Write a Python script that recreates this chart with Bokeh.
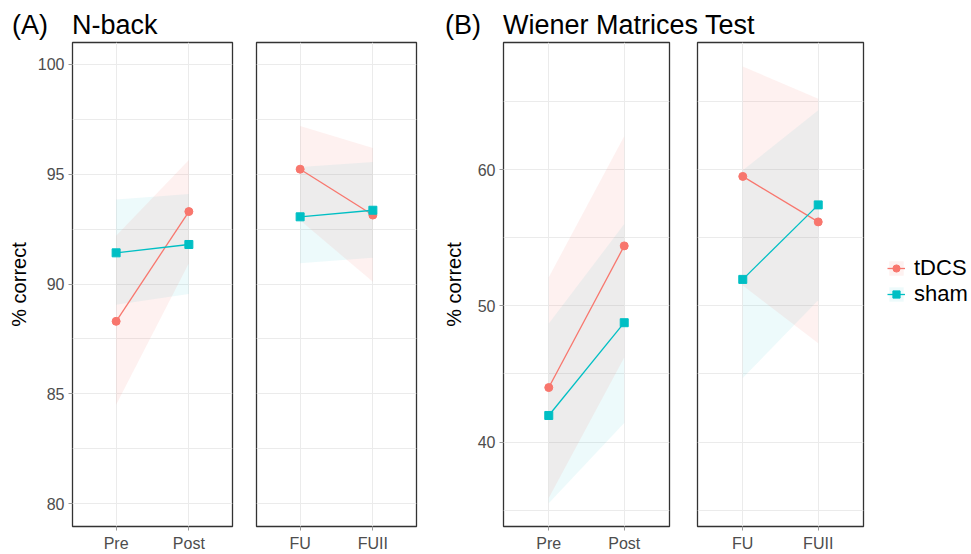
from bokeh.plotting import figure
from bokeh.layouts import row, column
from bokeh.models import FactorRange, Range1d, FixedTicker, Legend, LegendItem, Div
from bokeh.embed import file_html
from bokeh.resources import INLINE

FONT = "Liberation Sans"
C_TDCS = "#F8766D"
C_SHAM = "#00BFC4"

# ---------------- data ----------------
periods_pre = ["Pre", "Post"]
periods_fu = ["FU", "FUII"]

nback_yticks = [80, 85, 90, 95, 100]
nback_yminor = [82.5, 87.5, 92.5, 97.5]
wmt_yticks = [40, 50, 60]
wmt_yminor = [35, 45, 55, 65]

# N-back, Pre/Post
nb_pre_tdcs_mean = [88.3, 93.3]
nb_pre_tdcs_lo = [84.5, 90.95]
nb_pre_tdcs_hi = [92.2, 95.65]
nb_pre_sham_mean = [91.42, 91.8]
nb_pre_sham_lo = [89.05, 89.55]
nb_pre_sham_hi = [93.85, 94.1]
# N-back, FU/FUII
nb_fu_tdcs_mean = [95.23, 93.14]
nb_fu_tdcs_lo = [92.9, 90.1]
nb_fu_tdcs_hi = [97.2, 96.2]
nb_fu_sham_mean = [93.06, 93.36]
nb_fu_sham_lo = [90.94, 91.2]
nb_fu_sham_hi = [95.33, 95.56]
# Wiener Matrices Test, Pre/Post
wm_pre_tdcs_mean = [44.0, 54.4]
wm_pre_tdcs_lo = [35.9, 46.2]
wm_pre_tdcs_hi = [52.1, 62.44]
wm_pre_sham_mean = [41.95, 48.76]
wm_pre_sham_lo = [35.5, 41.4]
wm_pre_sham_hi = [48.7, 56.0]
# Wiener Matrices Test, FU/FUII
wm_fu_tdcs_mean = [59.5, 56.16]
wm_fu_tdcs_lo = [51.5, 47.25]
wm_fu_tdcs_hi = [67.57, 65.2]
wm_fu_sham_mean = [51.94, 57.41]
wm_fu_sham_lo = [44.7, 50.4]
wm_fu_sham_hi = [59.95, 64.35]

groups = ["tDCS", "sham"]
group_colors = [C_TDCS, C_SHAM]
group_markers = ["circle", "square"]
group_alpha = [0.1, 0.07]

panel_tags = ["(A)", "(B)"]
panel_titles = ["N-back", "Wiener Matrices Test"]

FIG_H = 514
TOP = 40


def make_panel(factors, yr, yticks, yminor, tdcs, sham, width, mbl, mbr,
               show_y, label_standoff=6):
    p = figure(
        x_range=FactorRange(factors=factors, range_padding=0.1,
                            range_padding_units="absolute"),
        y_range=Range1d(*yr),
        width=width, height=FIG_H,
        min_border_left=mbl, min_border_right=mbr,
        min_border_top=2, min_border_bottom=27,
        output_backend="svg", toolbar_location=None,
        background_fill_color="white", border_fill_color="white",
        outline_line_color="#333333", outline_line_width=1.3,
    )
    yt = FixedTicker(ticks=yticks, minor_ticks=yminor)
    p.yaxis.ticker = yt
    p.ygrid.ticker = yt
    p.ygrid.grid_line_color = "#EBEBEB"
    p.ygrid.grid_line_width = 1
    p.ygrid.minor_grid_line_color = "#EBEBEB"
    p.ygrid.minor_grid_line_width = 1
    p.xgrid.grid_line_color = "#EBEBEB"
    p.xgrid.grid_line_width = 1

    for ax in (p.xaxis, p.yaxis):
        ax.axis_line_color = None
        ax.major_tick_line_color = "#999999"
        ax.major_tick_out = 4
        ax.major_tick_in = 0
        ax.minor_tick_line_color = None
        ax.major_label_text_font = FONT
        ax.major_label_text_font_size = "16px"
        ax.major_label_text_color = "#4D4D4D"
    p.xaxis.major_label_standoff = 4
    p.yaxis.major_label_standoff = 4

    if show_y:
        p.yaxis.axis_label = "% correct"
        p.yaxis.axis_label_text_font = FONT
        p.yaxis.axis_label_text_font_size = "20px"
        p.yaxis.axis_label_text_font_style = "normal"
        p.yaxis.axis_label_text_color = "#000000"
        p.yaxis.axis_label_standoff = label_standoff
    else:
        p.yaxis.visible = False

    p.varea(x=factors, y1=sham[1], y2=sham[2], fill_color=C_SHAM, fill_alpha=group_alpha[1])
    p.varea(x=factors, y1=tdcs[1], y2=tdcs[2], fill_color=C_TDCS, fill_alpha=group_alpha[0])
    p.line(x=factors, y=tdcs[0], line_color=C_TDCS, line_width=1.3)
    p.line(x=factors, y=sham[0], line_color=C_SHAM, line_width=1.3)
    p.scatter(x=factors, y=tdcs[0], marker="circle", size=8,
              fill_color=C_TDCS, line_color=C_TDCS)
    p.scatter(x=factors, y=sham[0], marker="square", size=8,
              fill_color=C_SHAM, line_color=C_SHAM)
    return p


nb_range = (78.955, 101.0)
wm_range = (33.8, 69.33)

pA1 = make_panel(periods_pre, nb_range, nback_yticks, nback_yminor,
                 (nb_pre_tdcs_mean, nb_pre_tdcs_lo, nb_pre_tdcs_hi),
                 (nb_pre_sham_mean, nb_pre_sham_lo, nb_pre_sham_hi),
                 244, 72, 12, True, label_standoff=5)
pA2 = make_panel(periods_fu, nb_range, nback_yticks, nback_yminor,
                 (nb_fu_tdcs_mean, nb_fu_tdcs_lo, nb_fu_tdcs_hi),
                 (nb_fu_sham_mean, nb_fu_sham_lo, nb_fu_sham_hi),
                 182, 12, 10, False)
pB1 = make_panel(periods_pre, wm_range, wmt_yticks, wmt_yminor,
                 (wm_pre_tdcs_mean, wm_pre_tdcs_lo, wm_pre_tdcs_hi),
                 (wm_pre_sham_mean, wm_pre_sham_lo, wm_pre_sham_hi),
                 257, 77, 14, True, label_standoff=10)
pB2 = make_panel(periods_fu, wm_range, wmt_yticks, wmt_yminor,
                 (wm_fu_tdcs_mean, wm_fu_tdcs_lo, wm_fu_tdcs_hi),
                 (wm_fu_sham_mean, wm_fu_sham_lo, wm_fu_sham_hi),
                 182, 14, 2, False)

# legend-only figure: its renderers hold the FU series but the y range excludes
# them, so only Bokeh's legend keys are visible.
pL = figure(width=106, height=FIG_H, min_border=0,
            x_range=FactorRange(factors=periods_fu), y_range=Range1d(-2, -1),
            x_axis_location=None, y_axis_location=None,
            output_backend="svg", toolbar_location=None,
            outline_line_color=None, background_fill_color="white",
            border_fill_color="white")
pL.grid.visible = False
leg_series = [(wm_fu_tdcs_mean, wm_fu_tdcs_lo, wm_fu_tdcs_hi),
              (wm_fu_sham_mean, wm_fu_sham_lo, wm_fu_sham_hi)]
items = []
for g, c, m, a, s in zip(groups, group_colors, group_markers, group_alpha, leg_series):
    r1 = pL.varea(x=periods_fu, y1=s[1], y2=s[2], fill_color=c, fill_alpha=a)
    r2 = pL.line(x=periods_fu, y=s[0], line_color=c, line_width=1.3)
    r3 = pL.scatter(x=periods_fu, y=s[0], marker=m, size=8, fill_color=c, line_color=c)
    items.append(LegendItem(label=g, renderers=[r1, r2, r3]))
legend = Legend(
    items=items, location=(22, 219),
    label_text_font=FONT, label_text_font_size="22px", label_text_color="#000000",
    glyph_width=18, glyph_height=18, label_standoff=9, spacing=0,
    padding=0, margin=0, border_line_color=None, background_fill_alpha=0,
)
pL.add_layout(legend)

# panel titles
title_style = ("position:absolute;top:12px;white-space:nowrap;"
               "font-family:'Liberation Sans';font-size:27px;line-height:27px;color:#000;")
title_left = [(12, 72), (445, 503)]
spans = ""
for (xl_tag, xl_title), tag, ttl in zip(title_left, panel_tags, panel_titles):
    spans += f'<span style="{title_style}left:{xl_tag}px;">{tag}</span>'
    spans += f'<span style="{title_style}left:{xl_title}px;">{ttl}</span>'
title_div = Div(
    text=f'<div style="position:relative;width:971px;height:{TOP}px;">{spans}</div>',
    width=971, height=TOP, margin=(0, 0, 0, 0),
)

layout = column(title_div, row(pA1, pA2, pB1, pB2, pL, spacing=0), spacing=0)

with open("out.html", "w") as f:
    f.write(file_html(layout, INLINE))
